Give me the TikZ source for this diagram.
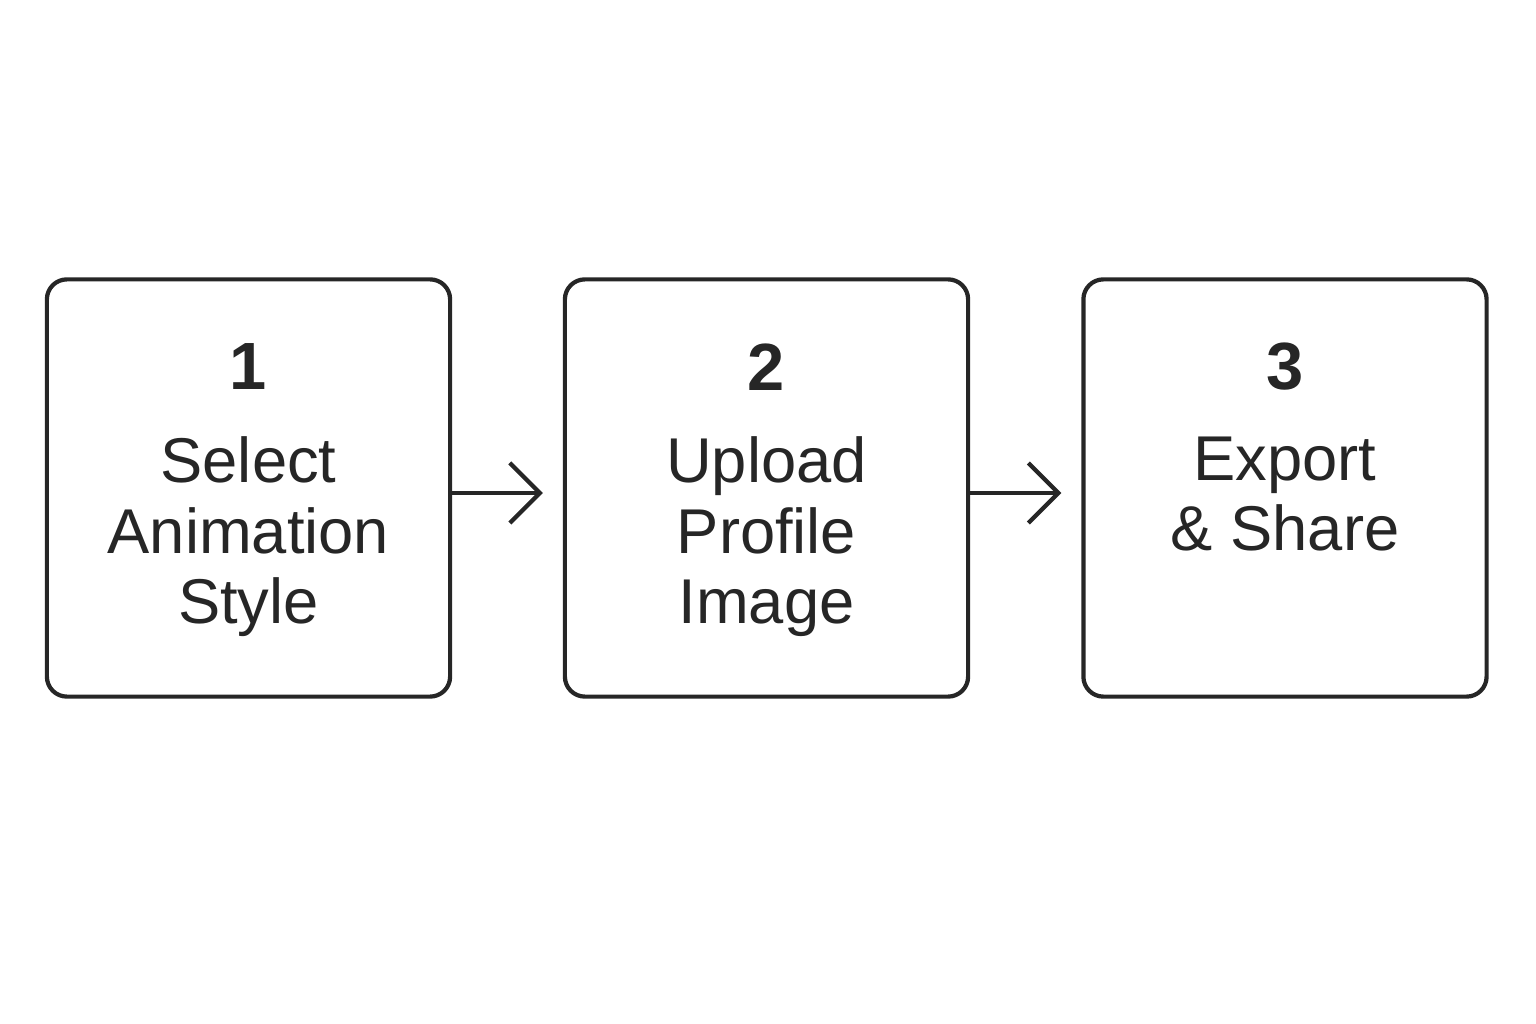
\documentclass[tikz,border=0pt]{standalone}
\usepackage{fontspec}
\setmainfont{Liberation Sans}
\usetikzlibrary{positioning,arrows.meta}

\begin{document}
\begin{tikzpicture}[x=0.01cm, y=0.01cm, line width=1.2pt, color={black!85},
    step box/.style={draw, rounded corners=0.2cm, minimum width=4.03cm, minimum height=4.17cm},
    step num/.style={font=\fontsize{19}{22}\selectfont\bfseries},
    step text/.style={anchor=north, inner sep=0pt, align=center, font=\fontsize{18}{20}\selectfont},
    flow/.style={-{Straight Barb[length=0.3cm, width=0.6cm]}, shorten >=0.2cm}]

    \useasboundingbox (0,0) rectangle (1536,1024);

    % Steps
    \node[step box] (S1) at (248.5,536) {};
    \node[step box] (S2) at (766.5,536) {};
    \node[step box] (S3) at (1285,536) {};

    \node[step num] (N1) at ([yshift=1.21cm]S1.center) {1};
    \node[step num] (N2) at ([yshift=1.21cm]S2.center) {2};
    \node[step num] (N3) at ([yshift=1.21cm]S3.center) {3};

    \node[step text] (T1) at ([yshift=0.53cm]S1.center) {Select\\Animation\\Style};
    \node[step text] (T2) at ([yshift=0.53cm]S2.center) {Upload\\Profile\\Image};
    \node[step text] (T3) at ([yshift=0.53cm]S3.center) {Export\\\& Share};

    \draw[flow] ([yshift=-0.05cm]S1.east) -- ([yshift=-0.05cm]S2.west);
    \draw[flow] ([yshift=-0.05cm]S2.east) -- ([yshift=-0.05cm]S3.west);

\end{tikzpicture}
\end{document}
